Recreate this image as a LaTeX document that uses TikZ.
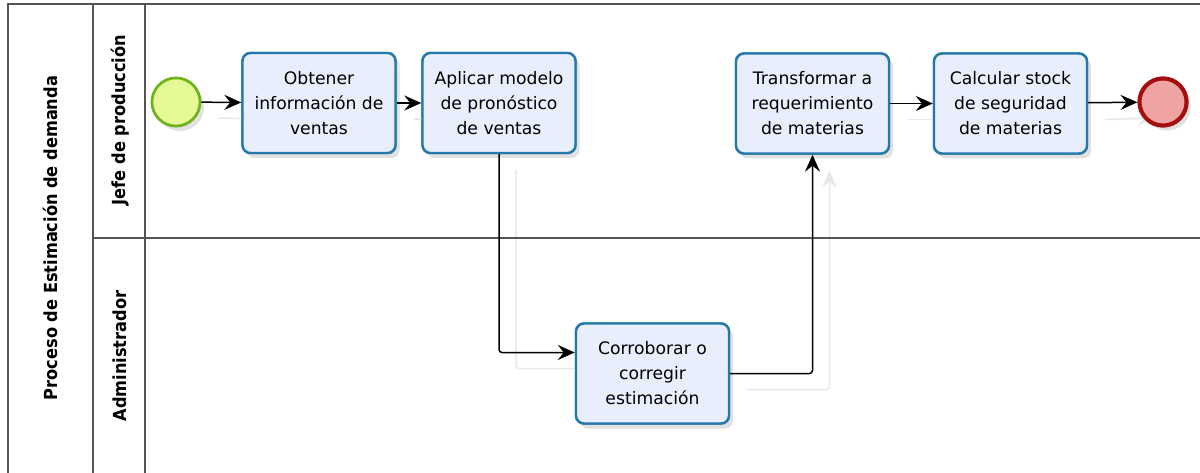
\documentclass[tikz,border=0pt]{standalone}
\usepackage{fontspec}
\setmainfont{DejaVu Sans}
\newfontfamily\lanefont{DejaVu Sans Condensed}
\usetikzlibrary{arrows.meta,calc,shadows}

\definecolor{poolline}{HTML}{555555}
\definecolor{taskfill}{HTML}{E9EEFC}
\definecolor{taskline}{HTML}{2479A8}
\definecolor{startfill}{HTML}{E5FA97}
\definecolor{startline}{HTML}{6DB31C}
\definecolor{endfill}{HTML}{EFA3A3}
\definecolor{endline}{HTML}{A50E0E}

\tikzset{
  pool/.style={draw=poolline, line width=1.3pt},
  lanelabel/.style={font=\lanefont\bfseries\fontsize{18}{20}\selectfont, rotate=90, inner sep=0pt},
  task/.style={rectangle, rounded corners=8pt, draw=taskline, line width=2.4pt,
    fill=taskfill, minimum width=153pt, minimum height=100pt, align=center,
    font=\fontsize{17.2}{25}\selectfont, inner sep=2pt,
    drop shadow={opacity=0.12, shadow xshift=4pt, shadow yshift=-5pt}},
  startev/.style={circle, draw=startline, line width=2.6pt, fill=startfill,
    minimum size=48pt, inner sep=0pt,
    drop shadow={opacity=0.12, shadow xshift=4pt, shadow yshift=-5pt}},
  endev/.style={circle, draw=endline, line width=4pt, fill=endfill,
    minimum size=47pt, inner sep=0pt,
    drop shadow={opacity=0.12, shadow xshift=4pt, shadow yshift=-5pt}},
  flowtip/.style={-{Stealth[length=17pt, width=15pt, inset=6pt]}},
  flow/.style={draw=black, line width=1.5pt, rounded corners=3pt, flowtip},
  ghost/.style={draw=black!9, line width=1.5pt, rounded corners=3pt, flowtip},
}

\begin{document}
\begin{tikzpicture}[x=1pt, y=-1pt]
  \useasboundingbox (0,0) rectangle (1200,473);
  \fill[white] (0,0) rectangle (1200,473);

  % flow nodes
  \node[startev] (start) at (176,102) {};
  \node[task] (t1) at (319,103) {Obtener\\información de\\ventas};
  \node[task] (t2) at (499,103) {Aplicar modelo\\de pronóstico\\de ventas};
  \node[task] (t3) at (812.5,103.5) {Transformar a\\requerimiento\\de materias};
  \node[task] (t4) at (1010.5,103.5) {Calcular stock\\de seguridad\\de materias};
  \node[task] (t5) at (652.5,373.5) {Corroborar o\\corregir\\estimación};
  \node[endev] (end) at (1163,102) {};
  \coordinate (t5in) at ($(t5.west)+(0,-21)$);

  % faint shadows of the sequence flows, offset down and right
  \path[ghost] ($(start.east)+(17,16)$) -- ($(t1.west)+(17,16)$);
  \path[ghost] ($(t1.east)+(17,16)$) -- ($(t2.west)+(17,16)$);
  \path[ghost] ($(t3.east)+(17,16)$) -- ($(t4.west)+(17,16)$);
  \path[ghost] ($(t4.east)+(17,16)$) -- ($(end.west)+(17,16)$);
  \path[ghost] ($(t2.south)+(17,16)$) |- ($(t5in)+(17,16)$);
  \path[ghost] ($(t5.east)+(17,16)$) -| ($(t3.south)+(17,16)$);

  % redraw the nodes over their shadows
  \node[startev] at (start) {};
  \node[task] at (t1) {Obtener\\información de\\ventas};
  \node[task] at (t2) {Aplicar modelo\\de pronóstico\\de ventas};
  \node[task] at (t3) {Transformar a\\requerimiento\\de materias};
  \node[task] at (t4) {Calcular stock\\de seguridad\\de materias};
  \node[task] at (t5) {Corroborar o\\corregir\\estimación};
  \node[endev] at (end) {};

  % pool and lanes
  \draw[pool] (8,473) -- (8,4) -- (1200,4);
  \draw[pool] (93,4) -- (93,473);
  \draw[pool] (145,4) -- (145,473);
  \draw[pool] (93,238) -- (1200,238);

  \node[lanelabel] (pool) at (50,238) {Proceso de Estimación de demanda};
  \node[lanelabel] (lane1) at (120,120) {Jefe de producción};
  \node[lanelabel] (lane2) at (120,356) {Administrador};

  % sequence flows
  \path[flow] (start) -- (t1);
  \path[flow] (t1) -- (t2);
  \path[flow] (t2.south) |- (t5in);
  \path[flow] (t5.east) -| (t3.south);
  \path[flow] (t3) -- (t4);
  \path[flow] (t4) -- (end);
\end{tikzpicture}
\end{document}
